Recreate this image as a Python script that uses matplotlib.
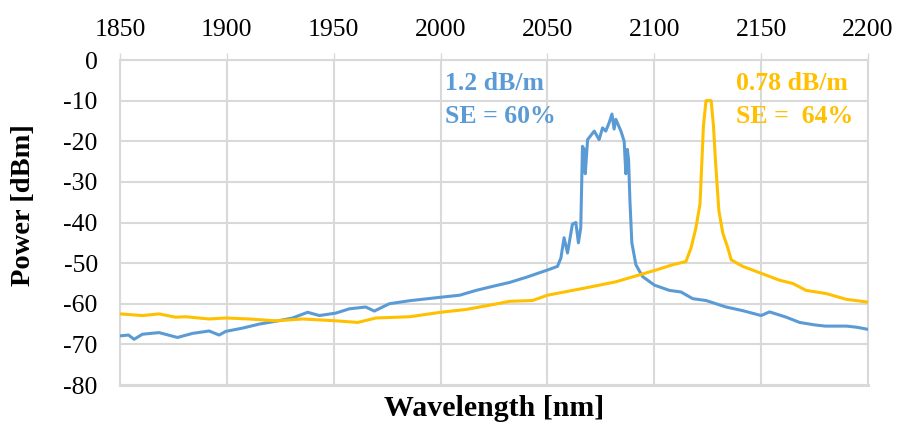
import matplotlib
matplotlib.use("Agg")
import matplotlib.pyplot as plt

# values
blue_wl = [1850, 1854, 1856.6, 1860.5, 1868.3, 1876.9, 1883.9, 1891.7, 1896.4, 1899.5,
           1907.3, 1915.2, 1923, 1930.8, 1937.8, 1943.3, 1951, 1957.3, 1965, 1969,
           1976, 1985.5, 2000, 2008.9, 2016.7, 2024.5, 2032.3, 2040, 2050, 2054.7,
           2056.3, 2057.8, 2059.4, 2061.7, 2063.3, 2064.5, 2065.6, 2066.4, 2067.2, 2067.7,
           2068.8, 2071.9, 2074.2, 2075.8, 2077.3, 2078.9, 2080.2, 2081.2, 2082, 2084.4,
           2085.9, 2086.7, 2087.4, 2087.97, 2088.6, 2089.5, 2091.4, 2094.5, 2100, 2107,
           2112.5, 2118, 2124.2, 2133.6, 2141.4, 2150, 2153.9, 2161.7, 2168, 2175,
           2180, 2190, 2195, 2200]
blue_pw = [-67.9, -67.7, -68.75, -67.5, -67.1, -68.3, -67.3, -66.7, -67.7, -66.8,
           -66.0, -65.0, -64.3, -63.5, -62.1, -62.9, -62.3, -61.25, -60.8, -61.8,
           -60.0, -59.25, -58.4, -57.9, -56.7, -55.7, -54.75, -53.5, -51.7, -50.8,
           -48.75, -43.75, -47.5, -40.4, -40.0, -45.0, -41.25, -21.25, -22.0, -28.0,
           -19.6, -17.5, -19.6, -16.7, -17.5, -15.4, -13.3, -17.0, -14.6, -17.5,
           -20.0, -28.0, -22.0, -24.6, -34.6, -45.0, -50.4, -53.3, -55.4, -56.7,
           -57.1, -58.75, -59.2, -60.8, -61.7, -62.9, -62.0, -63.3, -64.6, -65.2,
           -65.5, -65.5, -65.8, -66.3]

orange_wl = [1850, 1860.5, 1868.3, 1876, 1880.8, 1891.7, 1899.5, 1910.5, 1923, 1935.5,
             1951, 1961.3, 1969.8, 1985.5, 2000, 2012, 2024.5, 2032.3, 2043, 2050,
             2066.4, 2082, 2093, 2100.8, 2108.6, 2114.8, 2117.2, 2119.5, 2121.4, 2122.3,
             2123, 2124.2, 2126.6, 2127.7, 2128.6, 2130.2, 2132, 2134.4, 2136, 2141.4,
             2150, 2158.6, 2164.8, 2171, 2180.5, 2189.8, 2200]
orange_pw = [-62.5, -62.9, -62.5, -63.3, -63.2, -63.75, -63.5, -63.75, -64.2, -63.75,
             -64.2, -64.6, -63.5, -63.2, -62.1, -61.4, -60.2, -59.4, -59.2, -57.9,
             -56.25, -54.6, -52.9, -51.7, -50.4, -49.6, -46.25, -41.25, -35.4, -24.6,
             -16.25, -10.0, -10.0, -16.25, -24.6, -37.0, -42.5, -46.25, -49.2, -50.8,
             -52.5, -54.2, -55.0, -56.7, -57.5, -58.9, -59.6]

x_ticks = [1850, 1900, 1950, 2000, 2050, 2100, 2150, 2200]
y_ticks = [0, -10, -20, -30, -40, -50, -60, -70, -80]

blue = "#5B9BD5"
orange = "#FFC000"
grid_c = "#D9D9D9"

plt.rcParams['font.family'] = ['Liberation Serif', 'DejaVu Serif']
plt.rcParams['axes.unicode_minus'] = False

fig = plt.figure(figsize=(8.98, 4.25), dpi=100)
ax = fig.add_axes([0.1336, 0.0941, 0.833, 0.7647])

ax.plot(blue_wl, blue_pw, color=blue, lw=2.2, zorder=3)
ax.plot(orange_wl, orange_pw, color=orange, lw=2.2, zorder=3)

ax.set_xlim(1850, 2200)
ax.set_ylim(-80, 0)
ax.set_xticks(x_ticks)
ax.set_yticks(y_ticks)
ax.xaxis.tick_top()
ax.tick_params(axis='x', direction='out', length=5, width=1, color=grid_c,
               labelsize=18.5, pad=9)
ax.tick_params(axis='y', length=0, labelsize=18.5, pad=16)
ax.grid(True, color=grid_c, lw=1.5)
ax.set_axisbelow(True)
for s in ax.spines.values():
    s.set_color(grid_c)
    s.set_linewidth(1.5)
ax.spines['bottom'].set_linewidth(2.2)

ax.xaxis.set_label_position('bottom')
ax.set_xlabel("Wavelength [nm]", fontsize=21.5, fontweight='bold')
ax.xaxis.set_label_coords(0.5, -0.03)
ax.set_ylabel("Power [dBm]", fontsize=20.5, fontweight='bold')
ax.yaxis.set_label_coords(-0.112, 0.554)

ax.text(2002, -7.4, "1.2 dB/m", color=blue, fontsize=18.5, fontweight='bold')
ax.text(2002, -15.5, "SE = 60%", color=blue, fontsize=18.5, fontweight='bold')
ax.text(2138.4, -7.4, "0.78 dB/m", color=orange, fontsize=18.5, fontweight='bold')
ax.text(2138.4, -15.5, "SE =  64%", color=orange, fontsize=18.5, fontweight='bold')

plt.savefig("out.png", dpi=100)
